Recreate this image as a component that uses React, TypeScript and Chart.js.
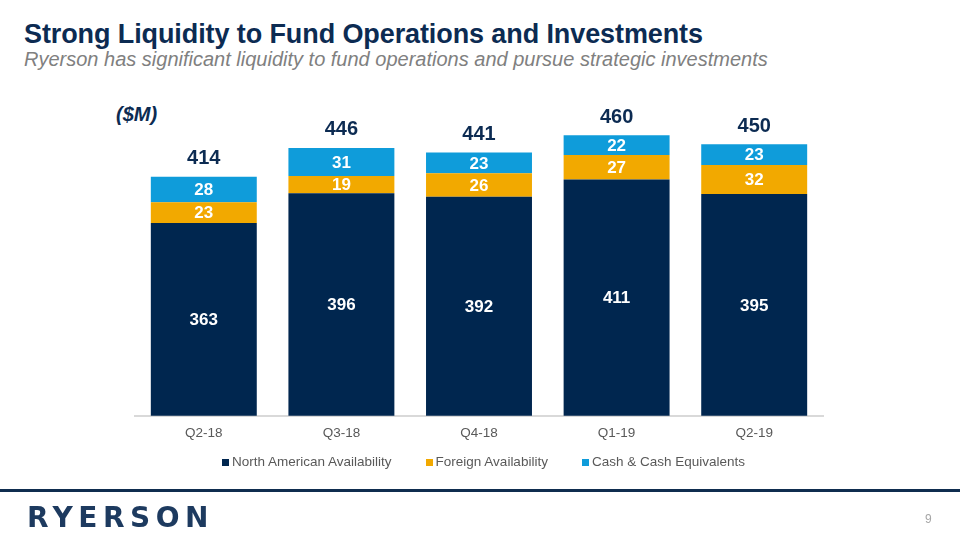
import React, { useEffect, useRef } from "react";
import { Chart, registerables } from "chart.js";

Chart.register(...registerables);

const categories = ["Q2-18", "Q3-18", "Q4-18", "Q1-19", "Q2-19"];
const northAmerican = [363, 396, 392, 411, 395];
const foreign = [23, 19, 26, 27, 32];
const cash = [28, 31, 23, 22, 23];
const totals = [414, 446, 441, 460, 450];
const seriesNames = ["North American Availability", "Foreign Availability", "Cash & Cash Equivalents"];
const seriesColors = ["#00264f", "#f2a900", "#0f9cda"];

const FONT = "'Liberation Sans', Arial, sans-serif";
const NAVY = "#0c2b52";

const labelPlugin = {
  id: "segLabels",
  afterDatasetsDraw(chart: any) {
    const ctx = chart.ctx;
    const bottom = chart.chartArea.bottom;
    ctx.save();
    ctx.textAlign = "center";
    ctx.textBaseline = "middle";
    chart.data.datasets.forEach((ds: any, di: number) => {
      const meta = chart.getDatasetMeta(di);
      meta.data.forEach((el: any, i: number) => {
        const v = ds.data[i];
        const base = Math.min(el.base, bottom);
        ctx.fillStyle = "#ffffff";
        ctx.font = `bold 17px ${FONT}`;
        ctx.fillText(String(v), el.x, (el.y + base) / 2 + 1);
      });
    });
    const lastMeta = chart.getDatasetMeta(chart.data.datasets.length - 1);
    lastMeta.data.forEach((el: any, i: number) => {
      ctx.fillStyle = NAVY;
      ctx.font = `bold 20px ${FONT}`;
      ctx.fillText(String(totals[i]), el.x, el.y - 18);
    });
    ctx.restore();
  },
};

export default function App() {
  const ref = useRef<HTMLCanvasElement>(null);
  useEffect(() => {
    const chart = new Chart(ref.current!, {
      type: "bar",
      data: {
        labels: categories,
        datasets: [
          { label: seriesNames[0], data: northAmerican, backgroundColor: seriesColors[0] },
          { label: seriesNames[1], data: foreign, backgroundColor: seriesColors[1] },
          { label: seriesNames[2], data: cash, backgroundColor: seriesColors[2] },
        ],
      },
      options: {
        animation: false,
        responsive: false,
        maintainAspectRatio: false,
        layout: { padding: { left: 135, right: 137, top: 99, bottom: 90 } },
        datasets: { bar: { categoryPercentage: 0.77, barPercentage: 1 } },
        plugins: { legend: { display: false }, tooltip: { enabled: false } },
        scales: {
          x: {
            stacked: true,
            grid: { display: false, drawTicks: false },
            border: { display: true, color: "#d9d9d9", width: 2 },
            ticks: { color: "#595959", font: { family: FONT, size: 13.5 }, padding: 9 },
          },
          y: { stacked: true, display: false, min: 150, max: 500 },
        },
      },
      plugins: [labelPlugin],
    });
    return () => chart.destroy();
  }, []);

  const legendItem = (name: string, color: string) => (
    <div key={name} style={{ display: "flex", alignItems: "center", marginRight: 34 }}>
      <span style={{ display: "inline-block", width: 7, height: 7, background: color, marginRight: 3 }} />
      <span>{name}</span>
    </div>
  );

  return (
    <div style={{ position: "absolute", left: 0, top: 0, width: 960, height: 540, background: "#fff", overflow: "hidden", fontFamily: FONT }}>
      <div style={{ position: "absolute", left: 24, top: 21, fontSize: 27, fontWeight: "bold", color: NAVY, lineHeight: "26px", letterSpacing: -0.1, whiteSpace: "nowrap" }}>
        Strong Liquidity to Fund Operations and Investments
      </div>
      <div style={{ position: "absolute", left: 24, top: 48, fontSize: 20, fontStyle: "italic", color: "#808080", lineHeight: "22px", whiteSpace: "nowrap" }}>
        Ryerson has significant liquidity to fund operations and pursue strategic investments
      </div>
      <div style={{ position: "absolute", left: 116, top: 102, fontSize: 20, fontStyle: "italic", fontWeight: "bold", color: NAVY, lineHeight: "24px" }}>
        ($M)
      </div>
      <canvas ref={ref} width={960} height={540} style={{ position: "absolute", left: 0, top: 0, width: 960, height: 540 }} />
      <div style={{ position: "absolute", left: 222, top: 454, display: "flex", fontSize: 13.5, color: "#595959", lineHeight: "16px", whiteSpace: "nowrap" }}>
        {seriesNames.map((n, i) => legendItem(n, seriesColors[i]))}
      </div>
      <div style={{ position: "absolute", left: 0, top: 489, width: 960, height: 3, background: "#0f2d4f" }} />
      <div style={{ position: "absolute", left: 27, top: 502, fontSize: 28, fontFamily: "'DejaVu Sans', sans-serif", fontWeight: "bold", color: "#1d3a5f", letterSpacing: 5.5, lineHeight: "32px" }}>
        RYERSON
      </div>
      <div style={{ position: "absolute", left: 925, top: 512, fontSize: 12, color: "#a6a6a6", lineHeight: "14px" }}>9</div>
    </div>
  );
}
